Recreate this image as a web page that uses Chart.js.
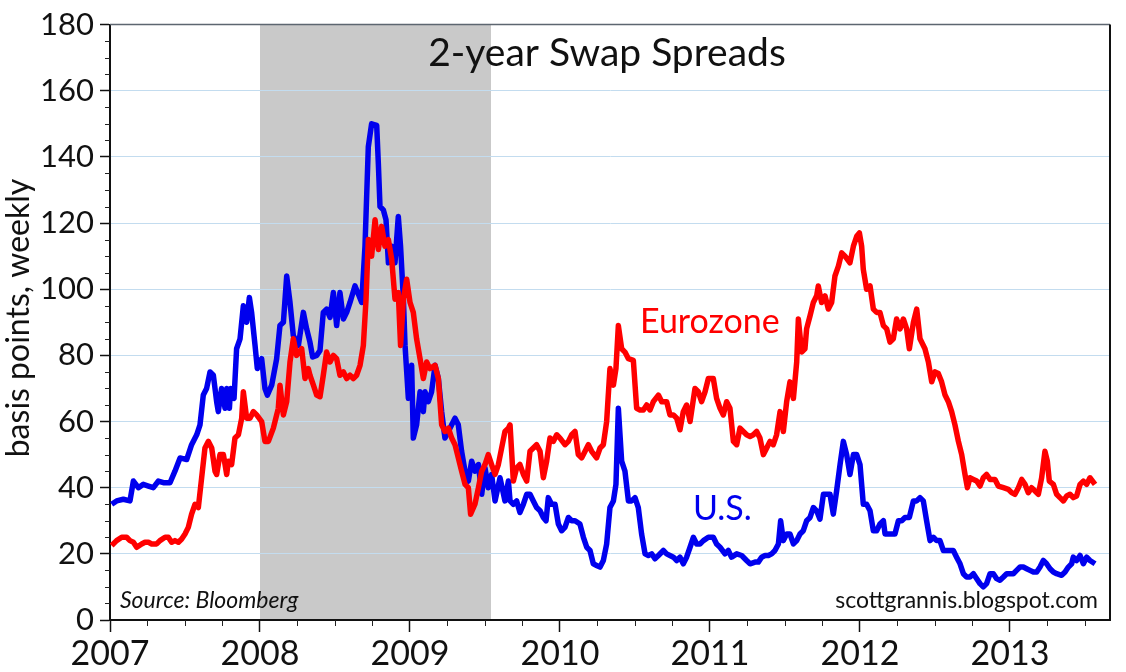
<!DOCTYPE html>
<html>
<head>
<meta charset="utf-8">
<script src="https://cdn.jsdelivr.net/npm/chart.js@4.4.1/dist/chart.umd.min.js"></script>
<style>
  html, body { margin: 0; padding: 0; background: #fff; }
  #wrap { width: 1126px; height: 672px; }
</style>
</head>
<body>
<div id="wrap"><canvas id="swapChart" width="1126" height="672"></canvas></div>
<script>
// weekly 2-year swap spreads, bp (dates as decimal years)
const usDates = [
  2007.011,2007.044,2007.089,2007.133,2007.156,2007.189,2007.222,2007.256,2007.289,2007.322,
  2007.356,2007.400,2007.433,2007.467,2007.511,2007.544,2007.578,2007.600,2007.622,2007.644,
  2007.667,2007.689,2007.711,2007.722,2007.744,2007.767,2007.778,2007.796,2007.804,2007.827,
  2007.844,2007.867,2007.889,2007.911,2007.929,2007.944,2007.967,2007.982,2008.011,2008.033,
  2008.049,2008.078,2008.111,2008.133,2008.156,2008.178,2008.200,2008.222,2008.256,2008.289,
  2008.311,2008.333,2008.351,2008.378,2008.400,2008.422,2008.444,2008.467,2008.489,2008.511,
  2008.533,2008.556,2008.578,2008.600,2008.633,2008.656,2008.678,2008.700,2008.722,2008.744,
  2008.778,2008.789,2008.800,2008.822,2008.840,2008.856,2008.878,2008.900,2008.922,2008.937,
  2008.956,2008.967,2008.978,2008.989,2009.011,2009.022,2009.044,2009.067,2009.089,2009.100,
  2009.122,2009.144,2009.167,2009.189,2009.211,2009.233,2009.256,2009.278,2009.300,2009.322,
  2009.344,2009.367,2009.389,2009.411,2009.433,2009.456,2009.478,2009.500,2009.522,2009.544,
  2009.567,2009.600,2009.633,2009.656,2009.667,2009.689,2009.711,2009.733,2009.756,2009.778,
  2009.800,2009.822,2009.844,2009.867,2009.889,2009.907,2009.922,2009.944,2009.967,2009.989,
  2010.011,2010.033,2010.056,2010.078,2010.100,2010.133,2010.156,2010.178,2010.200,2010.222,
  2010.244,2010.267,2010.289,2010.311,2010.333,2010.356,2010.373,2010.389,2010.411,2010.433,
  2010.456,2010.478,2010.500,2010.522,2010.544,2010.567,2010.589,2010.611,2010.633,2010.656,
  2010.689,2010.711,2010.733,2010.756,2010.778,2010.800,2010.822,2010.844,2010.867,2010.889,
  2010.911,2010.933,2010.956,2010.989,2011.022,2011.044,2011.067,2011.100,2011.122,2011.144,
  2011.178,2011.211,2011.244,2011.267,2011.300,2011.322,2011.344,2011.367,2011.389,2011.411,
  2011.433,2011.456,2011.471,2011.489,2011.511,2011.533,2011.556,2011.578,2011.600,2011.622,
  2011.644,2011.667,2011.689,2011.711,2011.733,2011.756,2011.778,2011.800,2011.822,2011.844,
  2011.867,2011.889,2011.911,2011.933,2011.956,2011.978,2012.000,2012.022,2012.044,2012.067,
  2012.089,2012.111,2012.133,2012.156,2012.167,2012.189,2012.211,2012.233,2012.256,2012.278,
  2012.300,2012.329,2012.356,2012.378,2012.400,2012.422,2012.444,2012.467,2012.489,2012.511,
  2012.533,2012.556,2012.578,2012.600,2012.622,2012.644,2012.667,2012.689,2012.711,2012.733,
  2012.756,2012.778,2012.800,2012.822,2012.844,2012.867,2012.889,2012.911,2012.933,2012.956,
  2012.978,2013.000,2013.022,2013.044,2013.067,2013.089,2013.111,2013.133,2013.156,2013.178,
  2013.200,2013.222,2013.244,2013.267,2013.289,2013.311,2013.344,2013.367,2013.389,2013.411,
  2013.422,2013.444,2013.467,2013.489,2013.511,2013.533,2013.567
];
const usSpread = [
  35,36,36.5,36,42,40,41,40.5,40,42,
  41.5,41.5,45,49,48.5,53,56,59,68,70,
  75,74,66,63,70,64,70,64,70,67,
  82,85,95,90,97.5,93,83,76,79,70,
  68,71,79,89,90,104,96,86,83,93,
  88,84,79.5,80,81.5,93,94,91.5,99,89,
  99,91,93,96,101,98.5,96,113,143,150,
  149.5,138,125,124,121,108,113,108,122,113,
  97,83,75,67,77,55,59,69,63,69,
  66,69,77,73,63,55,57,59,61,59,
  51,45,42,48,45,47,38,46,40,44,
  36,43,36,42,36,35,36,32.5,35,38,
  38,36,34,33,31,30,37,35,35,29,
  27,28,31,30,30,29,25,22,21,17,
  16.5,16,18,23,34,36,41,64,48,45,
  36,36,37,34,26,20,19.5,20,18.5,19.5,
  21,20,19.5,19,18,19,17,19,22,25,
  23,23,24,25,25,23,22,20,21,19,
  20,19.5,18,17,17.5,17.5,19,19.5,19.5,20,
  21,23,30,24,26,26,23,24,26,27,
  30,31,34,33,30.5,38,38,38,32,39,
  47,54,50,44,50,50,47,35,35,33,
  27,27,29,30,26,26,26,26,30,30,
  31,31,36,36,37,36,30,24,25,24,
  24,21,21,21,21,19,17,14,13,13,
  14,12.5,11,10,11,14,14,12.5,12,13,
  14,14,14,15,16,16,15.5,15,14.5,14.5,
  16,18,17,15.5,14.5,14,13.5,14.5,16,17,
  19,18,19.5,17,19,18,17
];
const euDates = [
  2007.011,2007.044,2007.078,2007.111,2007.133,2007.156,2007.178,2007.211,2007.233,2007.256,
  2007.278,2007.311,2007.333,2007.367,2007.389,2007.411,2007.433,2007.456,2007.478,2007.500,
  2007.522,2007.544,2007.567,2007.589,2007.611,2007.633,2007.656,2007.678,2007.700,2007.711,
  2007.733,2007.756,2007.778,2007.789,2007.811,2007.833,2007.856,2007.878,2007.889,2007.911,
  2007.933,2007.956,2007.978,2008.011,2008.033,2008.056,2008.089,2008.122,2008.133,2008.156,
  2008.178,2008.200,2008.222,2008.244,2008.278,2008.300,2008.322,2008.333,2008.356,2008.378,
  2008.400,2008.422,2008.444,2008.467,2008.489,2008.511,2008.533,2008.556,2008.578,2008.600,
  2008.622,2008.644,2008.667,2008.689,2008.707,2008.722,2008.744,2008.767,2008.789,2008.811,
  2008.833,2008.856,2008.878,2008.900,2008.922,2008.937,2008.956,2008.978,2009.000,2009.022,
  2009.044,2009.067,2009.089,2009.111,2009.133,2009.167,2009.189,2009.211,2009.233,2009.256,
  2009.278,2009.300,2009.322,2009.344,2009.367,2009.389,2009.404,2009.433,2009.456,2009.478,
  2009.500,2009.522,2009.544,2009.567,2009.589,2009.611,2009.633,2009.656,2009.667,2009.689,
  2009.711,2009.733,2009.756,2009.778,2009.800,2009.822,2009.844,2009.867,2009.889,2009.911,
  2009.933,2009.956,2009.978,2010.000,2010.033,2010.056,2010.078,2010.100,2010.122,2010.144,
  2010.167,2010.189,2010.211,2010.244,2010.267,2010.289,2010.311,2010.333,2010.356,2010.373,
  2010.389,2010.411,2010.433,2010.456,2010.489,2010.511,2010.533,2010.556,2010.578,2010.600,
  2010.622,2010.656,2010.678,2010.711,2010.733,2010.756,2010.778,2010.800,2010.822,2010.844,
  2010.867,2010.900,2010.922,2010.944,2010.967,2010.989,2011.022,2011.044,2011.067,2011.089,
  2011.111,2011.133,2011.156,2011.178,2011.200,2011.222,2011.244,2011.267,2011.289,2011.311,
  2011.333,2011.356,2011.378,2011.400,2011.422,2011.444,2011.467,2011.489,2011.511,2011.533,
  2011.556,2011.578,2011.589,2011.611,2011.633,2011.644,2011.667,2011.689,2011.711,2011.722,
  2011.744,2011.767,2011.789,2011.811,2011.833,2011.856,2011.878,2011.900,2011.933,2011.956,
  2011.978,2011.996,2012.011,2012.022,2012.044,2012.067,2012.089,2012.111,2012.133,2012.156,
  2012.178,2012.200,2012.222,2012.244,2012.267,2012.289,2012.311,2012.329,2012.356,2012.378,
  2012.400,2012.433,2012.456,2012.478,2012.500,2012.522,2012.544,2012.567,2012.589,2012.611,
  2012.633,2012.656,2012.678,2012.700,2012.716,2012.733,2012.756,2012.778,2012.800,2012.822,
  2012.844,2012.867,2012.900,2012.922,2012.956,2012.989,2013.011,2013.033,2013.056,2013.078,
  2013.100,2013.122,2013.144,2013.167,2013.189,2013.211,2013.233,2013.249,2013.262,2013.289,
  2013.311,2013.333,2013.356,2013.378,2013.400,2013.422,2013.444,2013.467,2013.489,2013.511,
  2013.533,2013.567
];
const euSpread = [
  22.5,24,25,25,24,23.5,22,23,23.5,23.5,
  23,23,24,25,25,23.5,24,23.5,24.5,26,
  28,32,35,34,43,52,54,52,45,44,
  50,50,44,48,47,55,56,61,69,61,
  61,63,62,60,54,54,58,64,71,62,
  66,78,85,80,82,73,76,74,71,68,
  67.5,74,81,78,80,79,74,75,73,74,
  73,74,77,83,97,115,110,121,112,119,
  113,115,109,97,99,83,97,103,96,93,
  85,79,73,78,76,77,73,59,57,58,
  55,53,49,45,41,40,32,35,40,45,
  47,50,47,44,47,52,57,58,59,42,
  46,47,44,42,51,52,53,51,43,48,
  55,54,56,55,53,54,56,57,50,49,
  51,53,51,49,52,53,60,76,71,76,
  89,82,81,79,78.5,64,63.5,63.5,65,63.5,
  66,68,66,66,62,62,61,57.5,63,65,
  60,70,69,66,69,73,73,67,64,62,
  66,64,54,53,58,57,56,55.5,56,57,
  55,50,52,54,53,56,63,57,66,72,
  67,78,91,81,82,88,92,96,98,101,
  96,98,94,96,104,107,111,110,108,113,
  116,117,113,106,100,101,94,93,93,89,
  88,84,85,91,88,91,88,82,90,94,
  85,82,78,72,75,74.5,72,68,66,63,
  59,54,50,44,40,43,42.5,42,40.5,43,
  44,42.5,42.5,40.5,40,39.5,38.5,38,40,42.5,
  41,38.5,40,39,38,43,51,48,42,41,
  38,37,36,37.5,38,37,37.5,41,42,41,
  43,41
];
const yearTicks = [2007, 2008, 2009, 2010, 2011, 2012, 2013];
const recession = [2008.0, 2009.54];

const toPoints = (xs, ys) => xs.map((x, i) => ({ x: x, y: ys[i] }));

const FONT = 'Lato, "Open Sans", sans-serif';

// gray recession band, drawn before the grid
const recessionBand = {
  id: 'recessionBand',
  beforeDraw(chart) {
    const { ctx, chartArea, scales } = chart;
    const x0 = scales.x.getPixelForValue(recession[0]);
    const x1 = scales.x.getPixelForValue(recession[1]);
    ctx.save();
    ctx.fillStyle = '#c9c9c9';
    ctx.fillRect(x0, chartArea.top, x1 - x0, chartArea.bottom - chartArea.top);
    ctx.restore();
  }
};

// frame, minor ticks and text labels
const decorations = {
  id: 'decorations',
  afterDraw(chart) {
    const { ctx, chartArea: a, scales } = chart;
    ctx.save();
    // minor ticks
    ctx.strokeStyle = '#222';
    ctx.lineWidth = 1;
    ctx.beginPath();
    for (let v = 5; v < 180; v += 5) {
      if (v % 20 === 0) continue;
      const y = Math.round(scales.y.getPixelForValue(v)) + 0.5;
      ctx.moveTo(a.left - 5, y);
      ctx.lineTo(a.left, y);
    }
    for (let yr = 2007; yr < 2013.7; yr += 0.25) {
      if (Number.isInteger(yr)) continue;
      const x = Math.round(scales.x.getPixelForValue(yr)) + 0.5;
      ctx.moveTo(x, a.bottom);
      ctx.lineTo(x, a.bottom + 6);
    }
    ctx.stroke();

    // plot frame
    ctx.strokeStyle = '#5d6670';
    ctx.lineWidth = 1.5;
    ctx.beginPath();
    ctx.moveTo(a.left, a.top);
    ctx.lineTo(a.right, a.top);
    ctx.stroke();
    ctx.strokeStyle = '#111';
    ctx.lineWidth = 2;
    ctx.beginPath();
    ctx.moveTo(a.right, a.top);
    ctx.lineTo(a.right, a.bottom);
    ctx.stroke();

    // texts
    ctx.fillStyle = '#111';
    ctx.textBaseline = 'alphabetic';
    ctx.textAlign = 'center';
    ctx.font = '39px ' + FONT;
    ctx.fillText('2-year Swap Spreads', 607, 66);

    ctx.textAlign = 'left';
    ctx.font = 'italic 23px ' + FONT;
    ctx.fillText('Source: Bloomberg', 120, 608);

    ctx.textAlign = 'right';
    ctx.font = '23px ' + FONT;
    ctx.fillText('scottgrannis.blogspot.com', 1098, 608);

    ctx.textAlign = 'left';
    ctx.font = '34px ' + FONT;
    ctx.fillStyle = '#ff0000';
    ctx.fillText('Eurozone', 640, 333);
    ctx.fillStyle = '#0000ee';
    ctx.fillText('U.S.', 693, 520);

    // y axis title
    ctx.fillStyle = '#111';
    ctx.font = '32px ' + FONT;
    ctx.translate(29, 318);
    ctx.rotate(-Math.PI / 2);
    ctx.textAlign = 'center';
    ctx.fillText('basis points, weekly', 0, 0);
    ctx.restore();
  }
};

const ctx = document.getElementById('swapChart').getContext('2d');

const swapChart = new Chart(ctx, {
  type: 'line',
  data: {
    datasets: [
      {
        label: 'Eurozone',
        data: toPoints(euDates, euSpread),
        borderColor: '#ff0000',
        borderWidth: 5.5,
        pointRadius: 0,
        tension: 0,
        borderJoinStyle: 'round',
        fill: false
      },
      {
        label: 'U.S.',
        data: toPoints(usDates, usSpread),
        borderColor: '#0000ee',
        borderWidth: 5.5,
        pointRadius: 0,
        tension: 0,
        borderJoinStyle: 'round',
        fill: false
      }
    ]
  },
  options: {
    responsive: false,
    animation: false,
    devicePixelRatio: 1,
    layout: { padding: { top: 20, right: 16, left: 0, bottom: 0 } },
    plugins: {
      legend: { display: false },
      tooltip: { enabled: false },
      title: { display: false }
    },
    scales: {
      x: {
        type: 'linear',
        min: 2007,
        max: 2013 + 2 / 3,
        afterBuildTicks: axis => {
          axis.ticks = yearTicks.map(v => ({ value: v }));
        },
        afterFit: axis => { axis.height = 52; },
        ticks: {
          autoSkip: false,
          maxRotation: 0,
          color: '#111',
          padding: 2,
          font: { family: FONT, size: 34 },
          callback: v => String(v)
        },
        grid: {
          drawOnChartArea: false,
          tickLength: 12,
          tickColor: '#111',
          tickWidth: 1.5
        },
        border: { color: '#111', width: 2 }
      },
      y: {
        min: 0,
        max: 180,
        afterFit: axis => { axis.width = 110; },
        ticks: {
          stepSize: 20,
          color: '#111',
          padding: 6,
          font: { family: FONT, size: 31 }
        },
        grid: {
          color: '#c3dcef',
          lineWidth: 1,
          tickLength: 10,
          tickColor: '#111',
          tickWidth: 1.5
        },
        border: { color: '#111', width: 2 }
      }
    }
  },
  plugins: [recessionBand, decorations]
});
</script>
</body>
</html>
